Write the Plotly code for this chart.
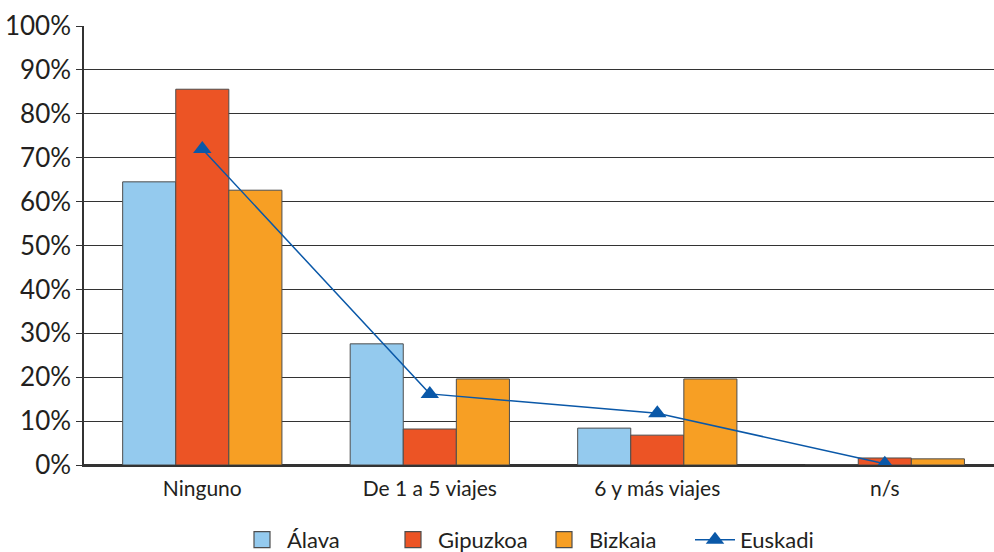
import plotly.graph_objects as go

categories = ["Ninguno", "De 1 a 5 viajes", "6 y más viajes", "n/s"]
alava = [64.5, 27.6, 8.4, 0.0]
gipuzkoa = [85.6, 8.2, 6.8, 1.6]
bizkaia = [62.6, 19.6, 19.6, 1.4]
euskadi = [72.0, 16.2, 11.8, 0.3]
y_ticks = list(range(0, 101, 10))
y_labels = [f"{v}%" for v in y_ticks]

FONT = "Lato, 'Open Sans', sans-serif"
outline = dict(color="#4d4d4d", width=1)
colors = {"Álava": "#94CAEE", "Gipuzkoa": "#EC5425", "Bizkaia": "#F79F24"}

fig = go.Figure()
for name, vals in [("Álava", alava), ("Gipuzkoa", gipuzkoa), ("Bizkaia", bizkaia)]:
    fig.add_trace(go.Bar(name=name, x=categories, y=vals, showlegend=False,
                         legendgroup=name,
                         marker=dict(color=colors[name], line=outline)))
for name in ["Álava", "Gipuzkoa", "Bizkaia"]:
    fig.add_trace(go.Scatter(name=name, x=[None], y=[None], mode="markers",
                             legendgroup=name,
                             marker=dict(symbol="square", size=19, color=colors[name],
                                         line=dict(color="#4d4d4d", width=1.2))))
fig.add_trace(go.Scatter(name="Euskadi", x=categories, y=euskadi,
                         mode="lines+markers",
                         line=dict(color="#0A58A8", width=1.5),
                         marker=dict(symbol="triangle-up", size=16, color="#0A58A8")))

fig.update_layout(
    width=994, height=552,
    margin=dict(l=84, r=0, t=26, b=87),
    plot_bgcolor="white", paper_bgcolor="white",
    barmode="group", bargap=0.30, bargroupgap=0,
    font=dict(family=FONT, color="#231f20"),
    legend=dict(orientation="h", x=0.5, xanchor="center",
                yref="container", y=0.022, yanchor="middle",
                font=dict(size=22), itemwidth=40, traceorder="normal",
                itemsizing="trace", entrywidth=96),
    xaxis=dict(range=[-0.52, 3.48], showgrid=False, showline=True,
               linecolor="#333", linewidth=1.5, ticks="", automargin=False,
               ticklabelstandoff=4, tickfont=dict(size=21)),
    yaxis=dict(range=[0, 100], tickvals=y_ticks, ticktext=y_labels,
               showgrid=True, gridcolor="#333", gridwidth=1.4, automargin=False,
               showline=True, linecolor="#333", linewidth=1.5,
               ticks="outside", ticklen=6, tickcolor="#333", tickwidth=1.4,
               zeroline=True, zerolinecolor="#333", zerolinewidth=1.5,
               tickfont=dict(size=26)),
)
fig.write_html("out.html", config={"displayModeBar": False},
               post_script="document.body.style.margin='0';")
